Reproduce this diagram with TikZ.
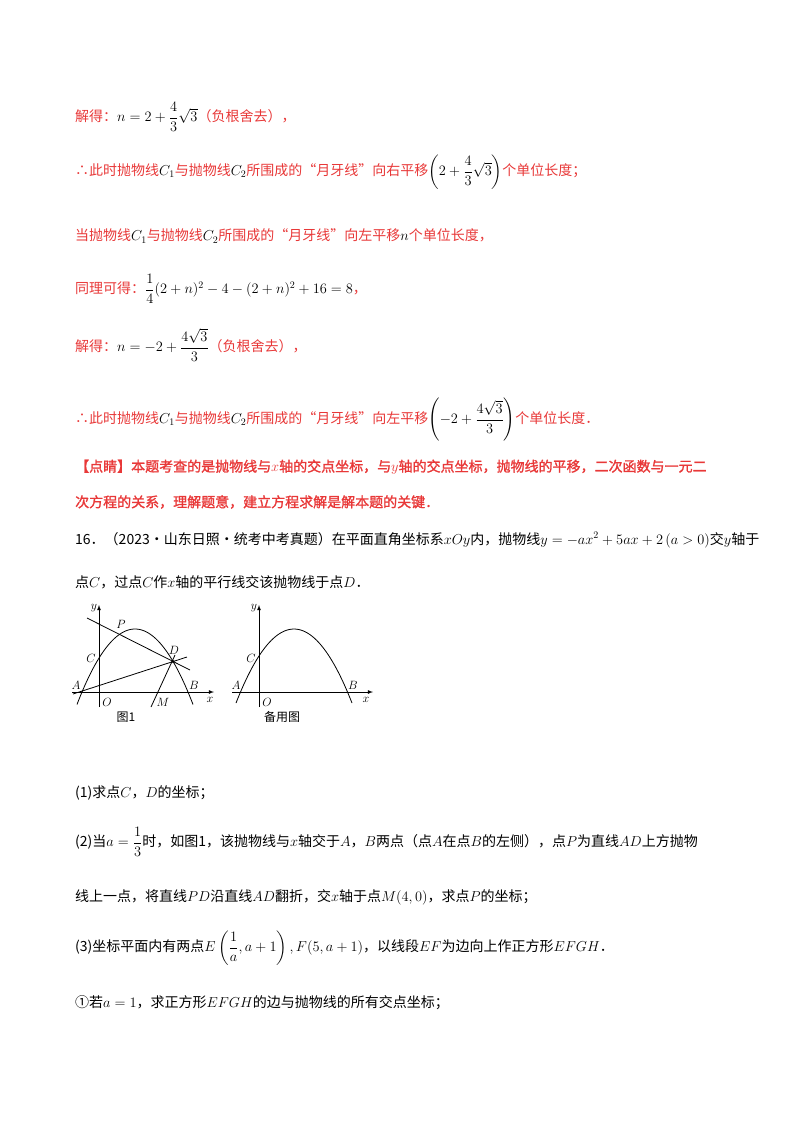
\documentclass[tikz,border=0pt]{standalone}
\usepackage{amsmath}
\usepackage{fontspec}
\setmainfont{Noto Sans CJK SC}[AutoFakeBold=1.5]
\definecolor{rd}{RGB}{232,56,56}
\newcommand{\R}[1]{\textcolor{rd}{#1}}
\begin{document}
\begin{tikzpicture}[x=1pt,y=-1pt,
  ln/.style={anchor=west,inner sep=0pt,font=\fontsize{14}{16}\selectfont},
  lab/.style={inner sep=0pt,font=\fontsize{12}{14}\selectfont},
  crv/.style={line width=0.8pt}]
\useasboundingbox (0,0) rectangle (800,1132);
\node[ln] (l1) at (75,117) {\R{解得：}$n=2+\dfrac{4}{3}\sqrt3$\R{（负根舍去），}};
\node[ln] (l2) at (75,172) {\R{∴此时抛物线}$C_1$\R{与抛物线}$C_2$\R{所围成的“月牙线”向右平移}$\left(2+\dfrac43\sqrt3\right)$\R{个单位长度；}};
\node[ln] (l3) at (75,236) {\R{当抛物线}$C_1$\R{与抛物线}$C_2$\R{所围成的“月牙线”向左平移}$n$\R{个单位长度，}};
\node[ln] (l4) at (75,289) {\R{同理可得：}$\dfrac14(2+n)^2-4-(2+n)^2+16=8$\R{，}};
\node[ln] (l5) at (75,345) {\R{解得：}$n=-2+\dfrac{4\sqrt3}{3}$\R{（负根舍去），}};
\node[ln] (l6) at (75,420) {\R{∴此时抛物线}$C_1$\R{与抛物线}$C_2$\R{所围成的“月牙线”向左平移}$\left(-2+\dfrac{4\sqrt3}{3}\right)$\R{个单位长度．}};
\node[ln] (l7) at (75,467) {\color{rd}\bfseries 【点睛】本题考查的是抛物线与$x$轴的交点坐标，与$y$轴的交点坐标，抛物线的平移，二次函数与一元二};
\node[ln] (l8) at (75,502) {\color{rd}\bfseries 次方程的关系，理解题意，建立方程求解是解本题的关键．};
\node[ln] (l9) at (75,540) {16．（2023·山东日照·统考中考真题）在平面直角坐标系$xOy$内，抛物线$y=-ax^2+5ax+2\,(a>0)$交$y$轴于};
\node[ln] (l10) at (75,582) {点$C$，过点$C$作$x$轴的平行线交该抛物线于点$D$．};
\node[ln] (q1) at (75,793) {(1)求点$C$，$D$的坐标；};
\node[ln] (q2) at (75,842) {(2)当$a=\dfrac13$时，如图1，该抛物线与$x$轴交于$A$，$B$两点（点$A$在点$B$的左侧），点$P$为直线$AD$上方抛物};
\node[ln] (q2b) at (75,897) {线上一点，将直线$PD$沿直线$AD$翻折，交$x$轴于点$M(4,0)$，求点$P$的坐标；};
\node[ln] (q3) at (75,948) {(3)坐标平面内有两点$E\left(\dfrac1a,a+1\right),F(5,a+1)$，以线段$EF$为边向上作正方形$EFGH$．};
\node[ln] (q4) at (75,1003) {①若$a=1$，求正方形$EFGH$的边与抛物线的所有交点坐标；};
% figure 1
\draw[crv,-latex] (72,692) -- (214,692);
\draw[crv,-latex] (99,707) -- (99,605);
\draw[crv,domain=77:193,samples=60] plot (\x,{692+0.02243*(\x-82)*(\x-188)});
\coordinate (D1) at (173,661.5);
\draw[crv] (87,618) -- (190,670);
\draw[crv] (73,694) -- (187,657);
\draw[crv] (151,707) -- (175,655);
\fill (D1) circle (1.6);
\node[lab] at (94,608) {$y$}; \node[lab] at (210,700) {$x$};
\node[lab] at (121,624) {$P$}; \node[lab] at (91,658) {$C$};
\node[lab] at (174,650) {$D$}; \node[lab] at (76,685) {$A$};
\node[lab] at (194,685) {$B$}; \node[lab] at (107,702) {$O$};
\node[lab] at (163,702) {$M$};
\node[lab] (f1) at (126,717) {图1};
% figure 2
\draw[crv,-latex] (232,692) -- (373,692);
\draw[crv,-latex] (259,707) -- (259,605);
\draw[crv,domain=236:352,samples=60] plot (\x,{692+0.022*(\x-240.5)*(\x-347.5)});
\node[lab] at (254,608) {$y$}; \node[lab] at (366,700) {$x$};
\node[lab] at (251,658) {$C$}; \node[lab] at (236,685) {$A$};
\node[lab] at (353,685) {$B$}; \node[lab] at (267,702) {$O$};
\node[lab] (f2) at (282,717) {备用图};
\end{tikzpicture}
\end{document}
